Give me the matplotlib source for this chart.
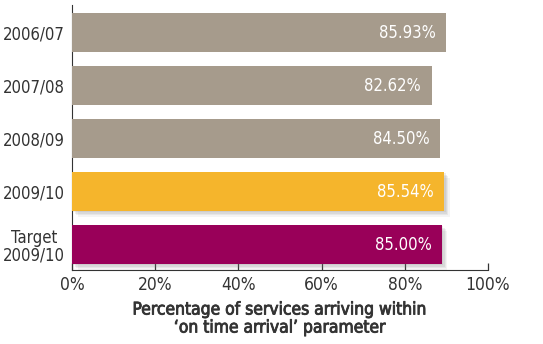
import matplotlib
matplotlib.use('Agg')
import matplotlib.pyplot as plt
import matplotlib.patheffects as pe

categories = ['2006/07', '2007/08', '2008/09', '2009/10', 'Target\n2009/10']
values = [85.93, 82.62, 84.50, 85.54, 85.00]
colors = ['#a69b8c', '#a69b8c', '#a69b8c', '#f5b52c', '#990059']
shadowed = [False, False, False, True, True]
tick_labels = ['0%', '20%', '40%', '60%', '80%', '100%']

# the source axis is drawn slightly compressed relative to the bars
axis_scale = 0.956

plt.rcParams['font.family'] = ['DejaVu Sans']
plt.rcParams['font.stretch'] = 'condensed'
text_color = '#333333'

fig = plt.figure(figsize=(5.43, 3.44), dpi=100)
ax = fig.add_axes([72 / 543, 74 / 344, 416 / 543, 265 / 344])

soft_shadow = [pe.SimplePatchShadow(offset=(o, -o), shadow_rgbFace='#777777', alpha=a)
               for o, a in [(4, 0.08), (3, 0.1), (2, 0.12), (1, 0.12)]]

for i, (v, c, s) in enumerate(zip(values, colors, shadowed)):
    bar = ax.barh(i, v, height=0.736, color=c, zorder=3)
    if s:
        bar[0].set_path_effects(soft_shadow + [pe.Normal()])
    ax.text(v - 2.4, i, f'{v:.2f}%', color='white', fontsize=12,
            ha='right', va='center', zorder=4)

ax.set_xlim(0, 100 * axis_scale)
ax.set_ylim(4.48, -0.52)
ax.set_xticks([20 * k * axis_scale for k in range(6)])
ax.set_xticklabels(tick_labels, fontsize=12.5, color=text_color)
ax.set_yticks(range(len(categories)))
ax.set_yticklabels(categories, fontsize=12, color=text_color, linespacing=1.0,
                   multialignment='center')

ax.tick_params(axis='x', direction='in', length=5, width=0.9, color=text_color, pad=4)
ax.tick_params(axis='y', length=0, pad=5)
ax.spines['top'].set_visible(False)
ax.spines['right'].set_visible(False)
ax.spines['left'].set_color(text_color)
ax.spines['bottom'].set_color(text_color)

xl = ax.set_xlabel('Percentage of services arriving within\n\u2018on time arrival\u2019 parameter',
                   fontsize=12.5, color=text_color, linespacing=1.0, labelpad=5)
xl.set_path_effects([pe.withStroke(linewidth=0.6, foreground=text_color)])

fig.savefig('out.png', dpi=100)
